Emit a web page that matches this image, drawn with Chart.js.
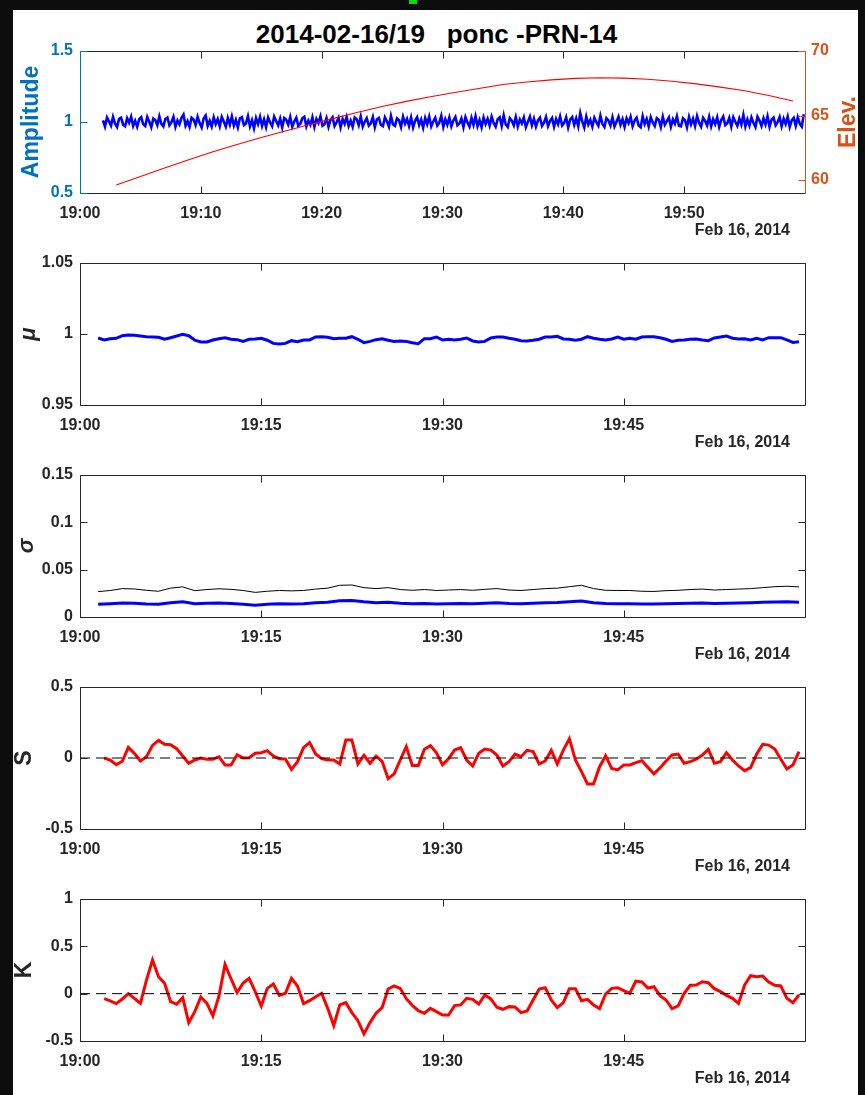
<!DOCTYPE html>
<html>
<head>
<meta charset="utf-8">
<script src="https://cdn.jsdelivr.net/npm/chart.js@4.4.1/dist/chart.umd.min.js"></script>
<style>
  html, body { margin: 0; padding: 0; background: #0c0c0c; overflow: hidden; }
  #hoja { position: absolute; left: 13px; top: 10px; width: 845px; height: 1085px; background: #fff; }
  #marca { position: absolute; left: 409px; top: 0; width: 8px; height: 4px; background: #00e000; }
  #titulo { position: absolute; left: 4px; width: 865px; top: 19px; text-align: center; line-height: 26px;
            font: bold 26px 'Liberation Sans', Arial, sans-serif; color: #000; white-space: pre; }
  canvas { position: absolute; left: 0; }
</style>
</head>
<body>
<div id="hoja"></div>
<div id="marca"></div>
<div id="titulo">2014-02-16/19   ponc -PRN-14</div>
<canvas id="panelAmp" width="865" height="230" style="top:21px"></canvas>
<canvas id="panelMu" width="865" height="230" style="top:233px"></canvas>
<canvas id="panelSigma" width="865" height="230" style="top:445px"></canvas>
<canvas id="panelS" width="865" height="230" style="top:657px"></canvas>
<canvas id="panelK" width="865" height="230" style="top:869px"></canvas>
<script>
// Datos: minutos desde las 19:00 del 16 feb 2014

// Amplitud, una muestra cada 10 s desde el minuto 1.9
const amplitud = [
  1.012,0.968,1.031,1.004,0.975,1.036,0.989,0.964,1.022,1.030,0.981,0.970,1.027,0.995,1.038,0.972,1.008,0.966,1.019,1.033,
  0.984,0.971,1.035,1.002,0.963,1.025,1.014,0.978,1.040,0.987,0.969,1.021,1.032,0.976,0.998,1.036,0.966,1.011,0.983,1.029,
  1.052,0.974,1.006,0.965,1.030,1.018,0.979,1.037,0.992,0.961,1.024,1.045,0.973,1.009,0.968,1.033,0.986,1.021,0.970,1.035,
  1.003,0.967,1.028,0.982,1.039,0.975,1.015,0.963,1.026,1.034,0.978,0.990,1.041,0.969,1.012,0.955,1.027,0.985,1.036,0.972,
  1.019,0.964,1.032,0.996,0.970,1.038,1.007,0.976,1.024,0.962,1.029,1.016,0.981,1.035,0.967,1.004,1.031,0.973,0.988,1.026,
  1.037,0.969,1.010,0.980,1.033,0.965,1.021,0.993,1.040,0.974,0.984,1.028,0.966,1.015,1.034,0.971,0.998,1.030,0.963,1.022,
  0.987,1.036,0.972,1.009,0.966,1.032,1.020,0.977,1.039,0.968,1.001,1.027,0.975,0.991,1.035,0.964,1.018,1.029,0.979,0.970,
  1.033,1.005,0.967,1.042,0.983,0.973,1.026,1.013,0.965,1.037,0.989,1.022,0.971,1.031,0.962,1.008,1.034,0.978,1.017,0.960,
  1.028,0.985,1.038,0.969,1.003,1.030,0.974,0.995,1.043,0.966,1.019,0.981,1.032,0.970,1.011,1.036,0.977,0.990,1.025,0.964,
  1.034,0.997,0.968,1.029,0.980,1.040,0.971,1.014,0.963,1.031,0.986,1.023,0.975,1.037,0.993,0.967,1.020,1.033,0.972,1.046,
  0.983,0.965,1.027,1.009,0.976,1.035,0.969,1.018,0.990,1.032,0.964,1.001,1.038,0.977,1.024,0.968,1.012,1.030,0.973,0.996,
  1.036,0.971,1.007,1.028,0.966,1.021,0.984,1.039,0.975,0.994,1.033,0.962,1.017,1.035,0.979,1.026,0.970,1.062,1.004,0.961,
  1.038,0.982,1.015,0.967,1.030,0.999,0.973,1.044,0.987,0.965,1.027,1.011,0.976,1.034,0.969,1.002,1.037,0.980,1.020,0.966,
  1.025,0.992,1.036,0.970,1.010,1.031,0.975,0.963,1.040,0.986,1.022,0.968,1.033,0.997,0.972,1.028,1.016,0.964,1.037,0.981,
  1.006,1.032,0.966,1.019,0.988,1.040,0.974,0.969,1.027,1.013,0.962,1.035,0.983,1.024,0.971,1.042,0.995,0.967,1.030,1.008,
  0.976,1.036,0.970,1.021,0.985,1.033,0.965,1.014,1.039,0.978,0.991,1.029,0.968,1.034,1.002,0.973,1.025,0.982,1.050,0.969,
  1.018,0.975,1.032,0.994,0.964,1.037,1.010,0.972,1.026,0.983,1.040,0.967,1.016,1.031,0.977,0.999,1.035,0.970,1.023,0.986,
  1.038,0.966,1.012,1.029,0.973,1.034,0.988,0.968,1.055
];

// Elevación del satélite (grados), cada 2 min desde el minuto 3
const elevacion = [
  59.62, 60.28, 60.93, 61.58, 62.20, 62.76, 63.30, 63.80, 64.30, 64.78,
  65.25, 65.70, 66.10, 66.45, 66.78, 67.10, 67.40, 67.60, 67.76, 67.88,
  67.93, 67.90, 67.81, 67.66, 67.45, 67.20, 66.92, 66.55, 66.13
];

// Media (mu), cada 30 s desde el minuto 1.5
const mu = [
  0.9972,0.9958,0.9967,0.9970,0.9988,0.9993,0.9991,0.9986,0.9981,0.9979,
  0.9977,0.9963,0.9974,0.9986,0.9998,0.9988,0.9956,0.9944,0.9944,0.9958,
  0.9967,0.9974,0.9963,0.9960,0.9948,0.9963,0.9965,0.9970,0.9956,0.9934,
  0.9930,0.9934,0.9953,0.9946,0.9958,0.9958,0.9979,0.9981,0.9977,0.9967,
  0.9970,0.9970,0.9981,0.9963,0.9939,0.9948,0.9960,0.9967,0.9956,0.9948,
  0.9951,0.9948,0.9939,0.9932,0.9967,0.9967,0.9979,0.9958,0.9963,
  0.9958,0.9963,0.9972,0.9951,0.9944,0.9948,0.9972,0.9979,0.9979,0.9970,
  0.9963,0.9953,0.9951,0.9956,0.9963,0.9979,0.9979,0.9984,0.9965,0.9963,
  0.9956,0.9963,0.9981,0.9970,0.9963,0.9958,0.9965,0.9979,0.9963,0.9970,
  0.9963,0.9979,0.9981,0.9981,0.9974,0.9963,0.9948,0.9956,0.9958,0.9963,
  0.9965,0.9958,0.9953,0.9972,0.9979,0.9986,0.9970,0.9965,0.9967,0.9958,
  0.9970,0.9958,0.9974,0.9974,0.9974,0.9958,0.9941,0.9946
];

// Desviación estándar (sigma), cada minuto desde el minuto 1.5
const sigma = [
  0.0134,0.0140,0.0148,0.0145,0.0138,0.0134,0.0150,0.0160,0.0140,0.0145,
  0.0148,0.0142,0.0135,0.0125,0.0135,0.0140,0.0138,0.0140,0.0150,0.0155,
  0.0172,0.0175,0.0160,0.0150,0.0155,0.0145,0.0140,0.0142,0.0138,0.0140,
  0.0143,0.0140,0.0145,0.0150,0.0142,0.0140,0.0145,0.0150,0.0152,0.0160,
  0.0168,0.0150,0.0143,0.0140,0.0140,0.0138,0.0137,0.0140,0.0143,0.0145,
  0.0148,0.0143,0.0145,0.0147,0.0150,0.0155,0.0158,0.0160,0.0157
];
const sigmaRef = [
  0.0268,0.0280,0.0300,0.0296,0.0282,0.0272,0.0305,0.0318,0.0278,0.0290,
  0.0298,0.0292,0.0280,0.0260,0.0272,0.0280,0.0276,0.0280,0.0295,0.0305,
  0.0335,0.0338,0.0310,0.0300,0.0310,0.0290,0.0282,0.0290,0.0280,0.0285,
  0.0290,0.0282,0.0292,0.0300,0.0285,0.0280,0.0290,0.0300,0.0305,0.0320,
  0.0335,0.0300,0.0282,0.0280,0.0280,0.0272,0.0270,0.0278,0.0282,0.0290,
  0.0295,0.0285,0.0290,0.0295,0.0300,0.0310,0.0320,0.0325,0.0318
];

// Asimetría (S), cada 30 s desde el minuto 2
const asimetria = [
  0.000,-0.014,-0.047,-0.023,0.075,0.033,-0.021,0.009,0.089,0.124,
  0.096,0.094,0.066,0.014,-0.037,-0.014,0.000,-0.009,-0.009,0.009,
  -0.049,-0.049,0.023,0.000,0.002,0.033,0.037,0.052,0.014,-0.005,
  -0.007,-0.080,-0.026,0.073,0.108,0.028,-0.005,-0.014,-0.014,-0.042,
  0.127,0.127,-0.042,0.019,-0.037,0.014,-0.023,-0.145,-0.112,-0.014,
  0.080,-0.052,-0.052,0.061,0.087,0.037,-0.047,-0.005,
  0.056,0.073,-0.014,-0.056,0.033,0.063,0.056,0.021,-0.056,-0.026,
  0.028,0.009,0.054,0.045,-0.042,-0.021,0.054,-0.042,0.056,0.136,
  -0.014,-0.096,-0.183,-0.183,-0.061,0.016,-0.073,-0.084,-0.049,-0.049,
  -0.033,-0.019,-0.066,-0.112,-0.070,-0.021,0.021,0.028,-0.037,-0.026,
  -0.009,0.021,0.061,-0.037,-0.026,0.037,-0.014,-0.056,-0.089,-0.068,
  0.028,0.096,0.091,0.063,-0.009,-0.077,-0.049,0.045
];

// Curtosis (K), cada 30 s desde el minuto 2
const curtosis = [
  -0.053,-0.077,-0.105,-0.056,0.000,-0.049,-0.102,0.144,0.355,0.179,
  0.109,-0.084,-0.112,-0.042,-0.306,-0.190,-0.035,-0.102,-0.235,-0.025,
  0.309,0.158,0.011,0.112,0.162,0.021,-0.130,0.056,0.102,-0.018,
  0.004,0.162,0.081,-0.105,-0.074,-0.032,0.004,-0.155,-0.337,-0.119,
  -0.095,-0.200,-0.285,-0.425,-0.306,-0.207,-0.148,0.049,0.081,0.056,
  -0.053,-0.123,-0.179,-0.207,-0.155,-0.190,-0.225,-0.225,
  -0.126,-0.119,-0.049,-0.060,-0.109,-0.014,-0.056,-0.144,-0.165,-0.137,
  -0.141,-0.200,-0.183,-0.067,0.049,0.063,-0.067,-0.148,-0.095,0.053,
  0.053,-0.074,-0.060,-0.119,-0.158,-0.004,0.056,0.063,0.032,0.004,
  0.133,0.123,0.060,0.074,-0.021,-0.067,-0.158,-0.130,0.004,0.088,
  0.091,0.126,0.116,0.053,0.021,-0.018,-0.049,-0.102,0.091,0.190,
  0.179,0.186,0.123,0.088,0.081,-0.049,-0.095,-0.014
];

// Marcas de los ejes
const ticksX10 = [0, 10, 20, 30, 40, 50];
const etiquetasX10 = ['19:00', '19:10', '19:20', '19:30', '19:40', '19:50'];
const ticksX15 = [0, 15, 30, 45];
const etiquetasX15 = ['19:00', '19:15', '19:30', '19:45'];
const ticksAmp = [0.5, 1, 1.5];
const ticksElev = [60, 65, 70];
const ticksMu = [0.95, 1, 1.05];
const ticksSigma = [0, 0.05, 0.1, 0.15];
const ticksS = [-0.5, 0, 0.5];
const ticksK = [-0.5, 0, 0.5, 1];
const fecha = 'Feb 16, 2014';

const AZUL_EJE = '#0072BD';
const NARANJA = '#D95319';
const GRIS = '#262626';
const FUENTE = "'Liberation Sans', Arial, sans-serif";

Chart.defaults.font.family = FUENTE;
Chart.defaults.font.size = 16;
Chart.defaults.font.weight = 'bold';
Chart.defaults.color = GRIS;

// Pasa una serie uniforme a puntos {x, y}
function serie(valores, inicio, paso) {
    return valores.map(function(v, i) {
        return { x: inicio + i * paso, y: v };
    });
}

// Caja estilo MATLAB: bordes, marcas hacia dentro, etiquetas y fecha
const cajaEjes = {
    id: 'cajaEjes',
    afterDatasetsDraw(chart, args, o) {
        const { ctx, chartArea: a, scales } = chart;
        const L = 7;
        const r = v => Math.round(v) + 0.5;
        const izq = r(a.left), der = r(a.right), arr = r(a.top), aba = r(a.bottom);
        ctx.save();
        ctx.lineWidth = 1;

        ctx.strokeStyle = GRIS;
        ctx.beginPath();
        ctx.moveTo(izq, arr); ctx.lineTo(der, arr);
        ctx.moveTo(izq, aba); ctx.lineTo(der, aba);
        scales.x.ticks.forEach(t => {
            const px = r(scales.x.getPixelForValue(t.value));
            ctx.moveTo(px, aba); ctx.lineTo(px, aba - L);
            ctx.moveTo(px, arr); ctx.lineTo(px, arr + L);
        });
        ctx.stroke();

        // eje izquierdo
        ctx.strokeStyle = o.colorIzq || GRIS;
        ctx.beginPath();
        ctx.moveTo(izq, arr); ctx.lineTo(izq, aba);
        scales.y.ticks.forEach(t => {
            const py = r(scales.y.getPixelForValue(t.value));
            ctx.moveTo(izq, py); ctx.lineTo(izq + L, py);
            if (!scales.y1) { ctx.moveTo(der, py); ctx.lineTo(der - L, py); }
        });
        if (!scales.y1) { ctx.moveTo(der, arr); ctx.lineTo(der, aba); }
        ctx.stroke();

        // eje derecho propio (elevación)
        if (scales.y1) {
            ctx.strokeStyle = NARANJA;
            ctx.beginPath();
            ctx.moveTo(der, arr); ctx.lineTo(der, aba);
            scales.y1.ticks.forEach(t => {
                const py = r(scales.y1.getPixelForValue(t.value));
                ctx.moveTo(der, py); ctx.lineTo(der - L, py);
            });
            ctx.stroke();
        }

        const medio = (a.top + a.bottom) / 2;
        ctx.textAlign = 'center';
        ctx.textBaseline = 'middle';
        [o.izquierda, o.derecha].forEach(et => {
            if (!et) return;
            ctx.save();
            ctx.translate(et.x, medio);
            ctx.rotate(-Math.PI / 2);
            ctx.fillStyle = et.color || GRIS;
            ctx.font = et.fuente || ('bold 23px ' + FUENTE);
            ctx.fillText(et.texto, 0, 0);
            ctx.restore();
        });

        ctx.fillStyle = GRIS;
        ctx.font = 'bold 16px ' + FUENTE;
        ctx.textAlign = 'right';
        ctx.fillText(fecha, 790, a.bottom + 38);
        ctx.restore();
    }
};

function ejeX(ticks, etiquetas) {
    return {
        type: 'linear',
        min: 0,
        max: 60,
        grid: { display: false, drawTicks: false },
        border: { display: false },
        afterBuildTicks: function(s) { s.ticks = ticks.map(v => ({ value: v })); },
        afterFit: function(s) { s.height = 58; },
        ticks: {
            autoSkip: false,
            maxRotation: 0,
            padding: 11,
            callback: function(v, i) { return etiquetas[i]; }
        }
    };
}

function ejeY(min, max, ticks, color, posicion, ancho) {
    return {
        type: 'linear',
        position: posicion,
        min: min,
        max: max,
        grid: { display: false, drawTicks: false },
        border: { display: false },
        afterBuildTicks: function(s) { s.ticks = ticks.map(v => ({ value: v })); },
        afterFit: function(s) { s.width = ancho; },
        ticks: {
            color: color,
            padding: posicion === 'left' ? 7 : 6,
            callback: function(v) { return String(+v.toFixed(4)); }
        }
    };
}

function linea(datos, color, ancho, extra) {
    return Object.assign({
        data: datos,
        borderColor: color,
        borderWidth: ancho,
        pointRadius: 0,
        tension: 0,
        fill: false
    }, extra || {});
}

const lineaCero = [{ x: 0, y: 0 }, { x: 60, y: 0 }];

// Crear un panel
function crearPanel(canvasId, datasets, scales, textos, derecha) {
    return new Chart(document.getElementById(canvasId), {
        type: 'line',
        data: { datasets: datasets },
        options: {
            responsive: false,
            animation: false,
            devicePixelRatio: 1,
            layout: { padding: { top: 30, left: 0, bottom: 0, right: derecha } },
            plugins: {
                legend: { display: false },
                tooltip: { enabled: false },
                cajaEjes: textos
            },
            scales: scales
        },
        plugins: [cajaEjes]
    });
}

// la elevación va encima de la amplitud
crearPanel('panelAmp', [
    linea(serie(amplitud, 1.9, 1 / 6), '#0000FF', 2.6, { yAxisID: 'y', order: 2 }),
    linea(serie(elevacion, 3, 2), '#FF0000', 1.1, { yAxisID: 'y1', order: 1 })
], {
    x: ejeX(ticksX10, etiquetasX10),
    y: ejeY(0.5, 1.5, ticksAmp, AZUL_EJE, 'left', 80),
    y1: ejeY(59, 70, ticksElev, NARANJA, 'right', 60)
}, {
    colorIzq: AZUL_EJE,
    izquierda: { texto: 'Amplitude', x: 32, color: AZUL_EJE },
    derecha: { texto: 'Elev.', x: 849, color: NARANJA }
}, 0);

crearPanel('panelMu', [
    linea(serie(mu, 1.5, 0.5), '#0000FF', 3)
], {
    x: ejeX(ticksX15, etiquetasX15),
    y: ejeY(0.95, 1.05, ticksMu, GRIS, 'left', 80)
}, {
    izquierda: { texto: 'μ', x: 29, fuente: 'italic bold 22px ' + FUENTE }
}, 60);

crearPanel('panelSigma', [
    linea(serie(sigma, 1.5, 1), '#0000FF', 3),
    linea(serie(sigmaRef, 1.5, 1), '#000000', 1)
], {
    x: ejeX(ticksX15, etiquetasX15),
    y: ejeY(0, 0.15, ticksSigma, GRIS, 'left', 80)
}, {
    izquierda: { texto: 'σ', x: 27, fuente: 'italic bold 22px ' + FUENTE }
}, 60);

crearPanel('panelS', [
    linea(serie(asimetria, 2, 0.5), '#FF0000', 3, { order: 2 }),
    linea(lineaCero, '#000000', 1, { borderDash: [10, 6], order: 1 })
], {
    x: ejeX(ticksX15, etiquetasX15),
    y: ejeY(-0.5, 0.5, ticksS, GRIS, 'left', 80)
}, {
    izquierda: { texto: 'S', x: 25 }
}, 60);

crearPanel('panelK', [
    linea(serie(curtosis, 2, 0.5), '#FF0000', 3, { order: 2 }),
    linea(lineaCero, '#000000', 1, { borderDash: [10, 6], order: 1 })
], {
    x: ejeX(ticksX15, etiquetasX15),
    y: ejeY(-0.5, 1, ticksK, GRIS, 'left', 80)
}, {
    izquierda: { texto: 'K', x: 25 }
}, 60);
</script>
</body>
</html>
